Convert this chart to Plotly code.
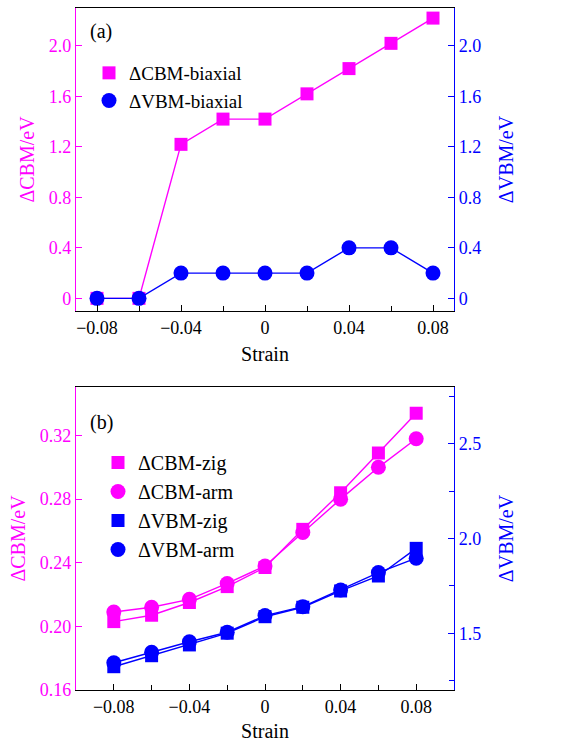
import plotly.graph_objects as go

# ---- data ----
strain = [-0.08, -0.06, -0.04, -0.02, 0.0, 0.02, 0.04, 0.06, 0.08]

# (a) biaxial strain
cbm_biaxial = [0.0, 0.0, 1.22, 1.42, 1.42, 1.62, 1.82, 2.02, 2.22]
vbm_biaxial = [0.0, 0.0, 0.2, 0.2, 0.2, 0.2, 0.4, 0.4, 0.2]

# (b) uniaxial strain along zigzag / armchair
cbm_zig = [0.203, 0.207, 0.215, 0.225, 0.237, 0.261, 0.284, 0.309, 0.334]
cbm_arm = [0.209, 0.212, 0.217, 0.227, 0.238, 0.259, 0.280, 0.300, 0.318]
vbm_zig = [1.323, 1.381, 1.438, 1.500, 1.587, 1.637, 1.723, 1.802, 1.948]
vbm_arm = [1.344, 1.399, 1.455, 1.505, 1.593, 1.640, 1.728, 1.820, 1.896]

x_ticks = [-0.08, -0.04, 0.0, 0.04, 0.08]
x_ticktext = ["\u22120.08", "\u22120.04", "0", "0.04", "0.08"]
x_minor = [-0.06, -0.02, 0.02, 0.06]

a_ticks = [0, 0.4, 0.8, 1.2, 1.6, 2.0]
a_ticktext = ["0", "0.4", "0.8", "1.2", "1.6", "2.0"]

b_left_ticks = [0.16, 0.20, 0.24, 0.28, 0.32]
b_left_text = ["0.16", "0.20", "0.24", "0.28", "0.32"]
b_right_ticks = [1.5, 2.0, 2.5]
b_right_text = ["1.5", "2.0", "2.5"]
b_right_minor = [1.25, 1.75, 2.25, 2.75]

MAG = "#FF00FF"
BLUE = "#0000FF"
FONT = "'Liberation Serif', 'Times New Roman', serif"
W, H = 575, 742

fig = go.Figure()

def add_series(x, y, color, symbol, name, xa, ya, legend, size):
    # connecting line (kept out of the legend) + markers (shown in the legend)
    fig.add_trace(go.Scatter(
        x=x, y=y, mode="lines", line=dict(color=color, width=1.4),
        xaxis=xa, yaxis=ya, showlegend=False, hoverinfo="skip",
    ))
    fig.add_trace(go.Scatter(
        x=x, y=y, mode="markers", name=name,
        marker=dict(symbol=symbol, size=size, color=color, line=dict(width=0)),
        xaxis=xa, yaxis=ya, legend=legend,
    ))

add_series(strain, cbm_biaxial, MAG, "square", "\u0394CBM-biaxial", "x", "y", "legend", 13)
add_series(strain, vbm_biaxial, BLUE, "circle", "\u0394VBM-biaxial", "x", "y2", "legend", 15)

add_series(strain, cbm_zig, MAG, "square", "\u0394CBM-zig", "x2", "y3", "legend2", 13)
add_series(strain, cbm_arm, MAG, "circle", "\u0394CBM-arm", "x2", "y3", "legend2", 15)
add_series(strain, vbm_zig, BLUE, "square", "\u0394VBM-zig", "x2", "y4", "legend2", 13)
add_series(strain, vbm_arm, BLUE, "circle", "\u0394VBM-arm", "x2", "y4", "legend2", 15)

# plot-area positions in paper coordinates
xdom = [76 / W, 454 / W]
a_dom = [1 - 311 / H, 1 - 8 / H]
b_dom = [1 - 690 / H, 1 - 387 / H]

tickfont = dict(family=FONT, size=18)
titlefont = dict(family=FONT, size=20)

def xaxis(dom_anchor, rng):
    return dict(
        domain=xdom, anchor=dom_anchor, range=rng,
        tickmode="array", tickvals=x_ticks, ticktext=x_ticktext,
        ticks="inside", ticklen=6, tickwidth=1, tickcolor="black",
        minor=dict(tickvals=x_minor, ticks="inside", ticklen=5, tickcolor="black", tickwidth=1),
        showline=True, linecolor="black", linewidth=1.2, mirror=True,
        showgrid=False, zeroline=False, automargin=False,
        tickfont=dict(tickfont, color="black"),
        title=dict(text="Strain", font=dict(titlefont, color="black"), standoff=10),
    )

def yaxis(dom, rng, tv, tt, color, side, anchor, overlay=None, minor=None, title="", standoff=8):
    d = dict(
        domain=dom, anchor=anchor, range=rng, side=side,
        tickmode="array", tickvals=tv, ticktext=tt,
        ticks="inside", ticklen=6, tickwidth=1, tickcolor=color,
        showline=True, linecolor=color, linewidth=1.2,
        showgrid=False, zeroline=False, automargin=False,
        tickfont=dict(tickfont, color=color),
        title=dict(text=title, font=dict(titlefont, color=color), standoff=standoff),
    )
    if overlay:
        d["overlaying"] = overlay
        d.pop("domain")
    if minor:
        d["minor"] = dict(tickvals=minor, ticks="inside", ticklen=5, tickcolor=color, tickwidth=1)
    return d

fig.update_layout(
    width=W, height=H,
    margin=dict(l=0, r=0, t=0, b=0),
    paper_bgcolor="white", plot_bgcolor="white",
    font=dict(family=FONT, size=18, color="black"),
    xaxis=xaxis("y", [-0.09, 0.09]),
    yaxis=yaxis(a_dom, [-0.1, 2.3], a_ticks, a_ticktext, MAG, "left", "x", title="\u0394CBM/eV"),
    yaxis2=yaxis(a_dom, [-0.1, 2.3], a_ticks, a_ticktext, BLUE, "right", "x", overlay="y",
                 title="\u0394VBM/eV", standoff=18),
    xaxis2=xaxis("y3", [-0.1, 0.1]),
    yaxis3=yaxis(b_dom, [0.16, 0.3505], b_left_ticks, b_left_text, MAG, "left", "x2", title="\u0394CBM/eV"),
    yaxis4=yaxis(b_dom, [1.2, 2.8], b_right_ticks, b_right_text, BLUE, "right", "x2",
                 overlay="y3", minor=b_right_minor, title="\u0394VBM/eV", standoff=18),
    legend=dict(
        x=89 / W, y=1 - 54 / H, xanchor="left", yanchor="top",
        bgcolor="rgba(0,0,0,0)", borderwidth=0,
        font=dict(family=FONT, size=19, color="black"),
        itemwidth=30, tracegroupgap=0,
    ),
    legend2=dict(
        x=98 / W, y=1 - 443 / H, xanchor="left", yanchor="top",
        bgcolor="rgba(0,0,0,0)", borderwidth=0,
        font=dict(family=FONT, size=20, color="black"),
        itemwidth=30, tracegroupgap=0,
    ),
    annotations=[
        dict(text="(a)", x=88 / W, y=1 - 32 / H, xref="paper", yref="paper",
             xanchor="left", yanchor="middle", showarrow=False,
             font=dict(family=FONT, size=20, color="black")),
        dict(text="(b)", x=88 / W, y=1 - 422 / H, xref="paper", yref="paper",
             xanchor="left", yanchor="middle", showarrow=False,
             font=dict(family=FONT, size=20, color="black")),
    ],
    showlegend=True,
)

fig.write_html("out.html")
